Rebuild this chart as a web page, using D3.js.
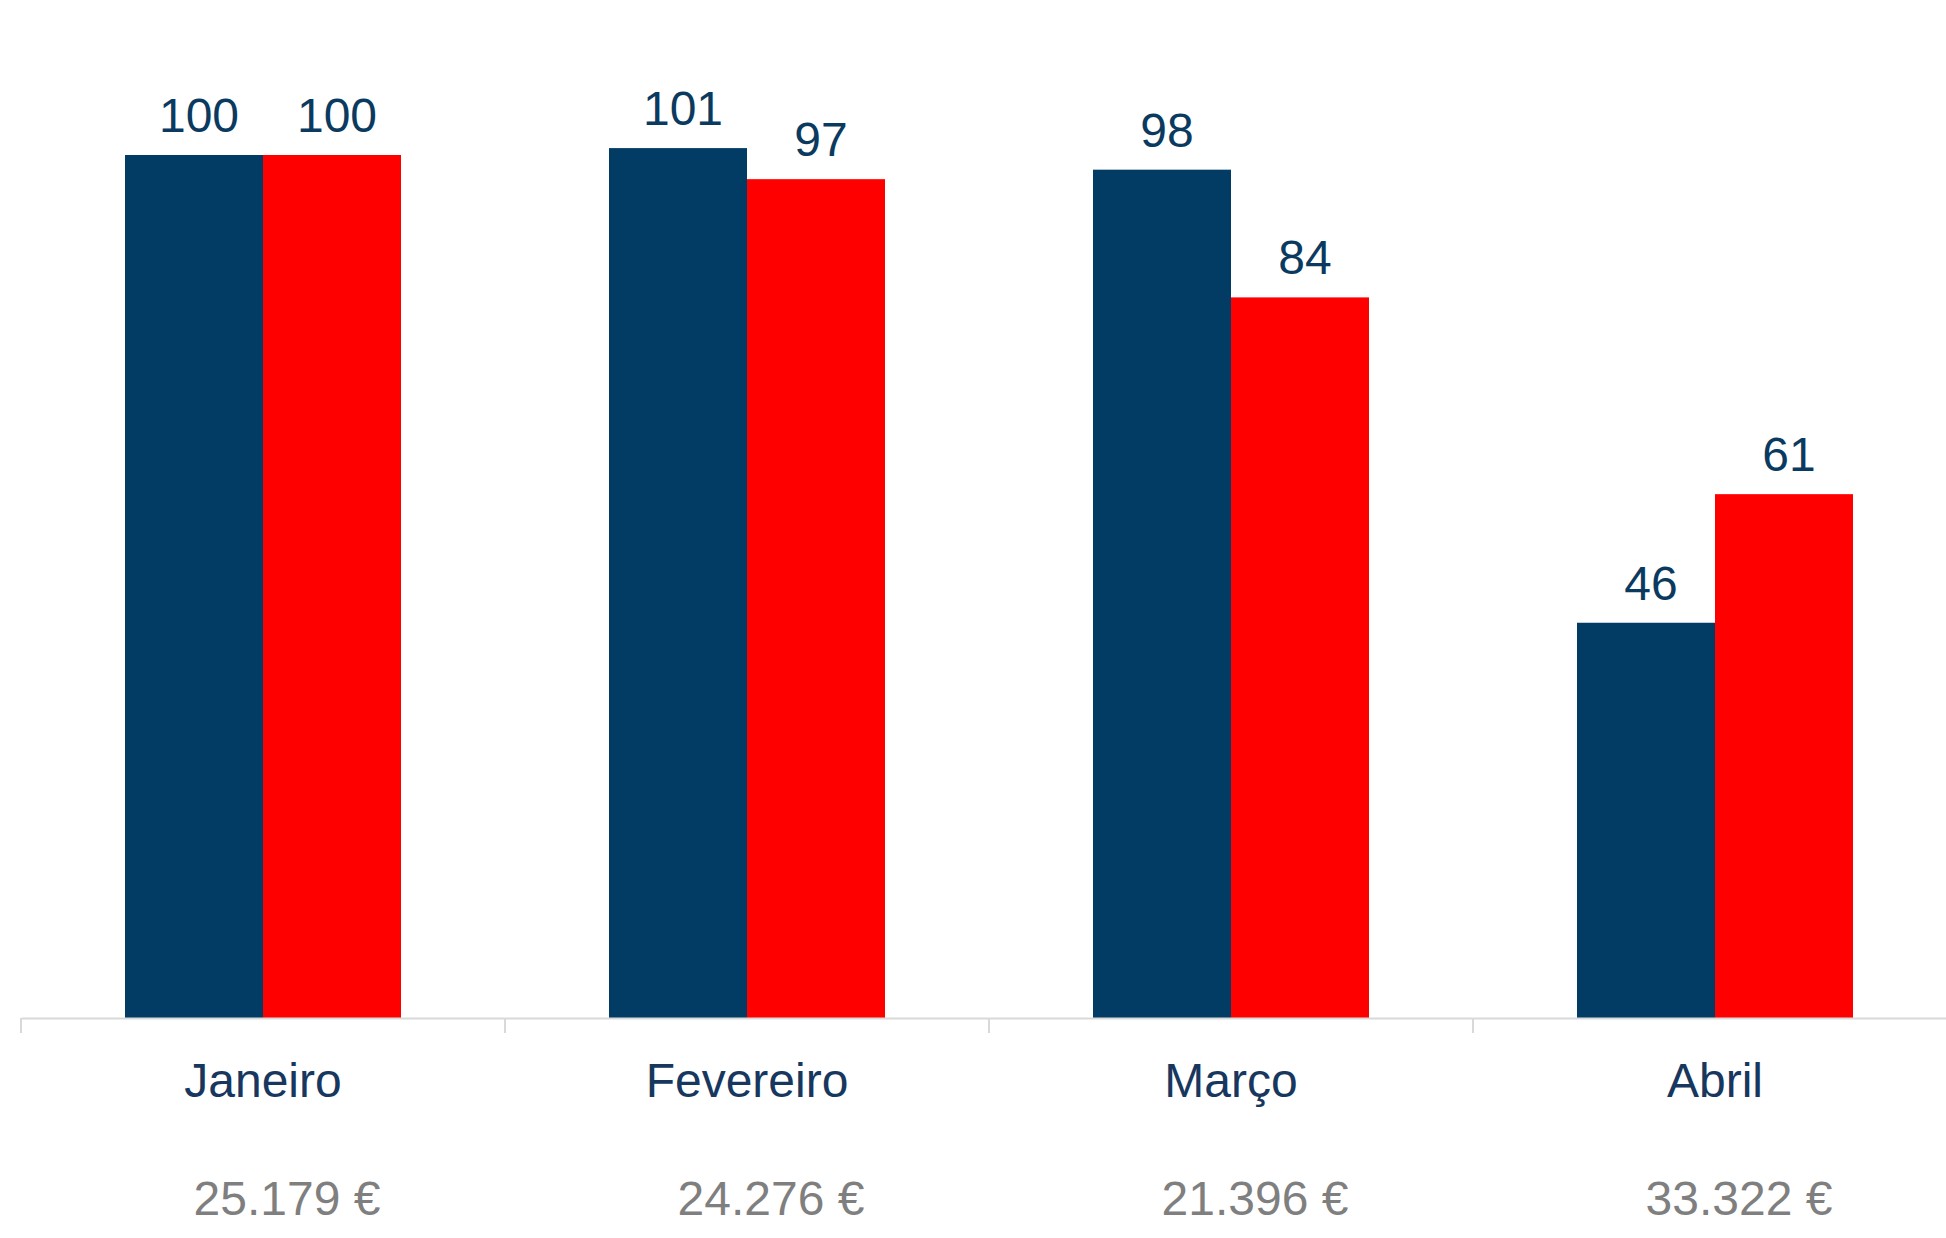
<!DOCTYPE html>
<html lang="pt">
<head>
<meta charset="UTF-8">
<title>Janeiro - Abril</title>
<style>
  body { margin: 0; background: #fff; }
  svg text { font-family: "Liberation Sans", Arial, sans-serif; }
</style>
</head>
<body>
<svg id="chart" width="1946" height="1238"></svg>
<script src="https://d3js.org/d3.v7.min.js"></script>
<script>
const meses = ["Janeiro", "Fevereiro", "Março", "Abril"];
const serieA = [100, 100.8, 98.3, 45.8];
const serieB = [100, 97.2, 83.5, 60.7];
const totais = ["25.179 €", "24.276 €", "21.396 €", "33.322 €"];

const svg = d3.select("#chart");
const baseY = 1018;

const x = d3.scaleBand()
  .domain(meses)
  .range([21, 1957])
  .paddingInner(0)
  .paddingOuter(0);

// barras dentro de cada mês
const xSub = d3.scaleBand()
  .domain(["a", "b"])
  .range([104, x.bandwidth() - 104]);

const y = d3.scaleLinear()
  .domain([0, 100])
  .range([baseY, 155]);

const cores = { a: "#023c64", b: "#ff0000" };

const linhas = meses.map((m, i) => ({ mes: m, a: serieA[i], b: serieB[i] }));

const grupos = svg.selectAll(".mes")
  .data(linhas)
  .enter().append("g")
  .attr("class", "mes")
  .attr("transform", d => `translate(${x(d.mes)},0)`);

const barras = grupos.selectAll(".barra")
  .data(d => ["a", "b"].map(k => ({ key: k, value: d[k] })))
  .enter();

barras.append("rect")
  .attr("x", d => xSub(d.key))
  .attr("y", d => y(d.value))
  .attr("width", xSub.bandwidth())
  .attr("height", d => baseY - y(d.value))
  .attr("fill", d => cores[d.key]);

barras.append("text")
  .attr("x", d => xSub(d.key) + xSub.bandwidth() / 2 + 5)
  .attr("y", d => y(d.value) - 23)
  .attr("text-anchor", "middle")
  .attr("font-size", 48)
  .attr("fill", "#0a3a60")
  .text(d => Math.round(d.value));

// eixo
const eixo = svg.append("g")
  .attr("transform", `translate(0,${baseY})`)
  .call(d3.axisBottom(x).tickSize(0).tickFormat(""));
eixo.select(".domain").attr("stroke", "#d9d9d9").attr("stroke-width", 2);

svg.append("g").selectAll("line")
  .data(meses)
  .enter().append("line")
  .attr("x1", d => x(d))
  .attr("x2", d => x(d))
  .attr("y1", baseY)
  .attr("y2", baseY + 15)
  .attr("stroke", "#d9d9d9")
  .attr("stroke-width", 2);

// nomes dos meses
svg.selectAll(".nome")
  .data(meses)
  .enter().append("text")
  .attr("class", "nome")
  .attr("x", d => x(d) + x.bandwidth() / 2)
  .attr("y", 1097)
  .attr("text-anchor", "middle")
  .attr("font-size", 48)
  .attr("fill", "#17375e")
  .text(d => d);

// totais
svg.selectAll(".total")
  .data(totais)
  .enter().append("text")
  .attr("class", "total")
  .attr("x", (d, i) => x(meses[i]) + x.bandwidth() / 2 + 24)
  .attr("y", 1215)
  .attr("text-anchor", "middle")
  .attr("font-size", 48)
  .attr("fill", "#7f7f7f")
  .text(d => d);
</script>
</body>
</html>
